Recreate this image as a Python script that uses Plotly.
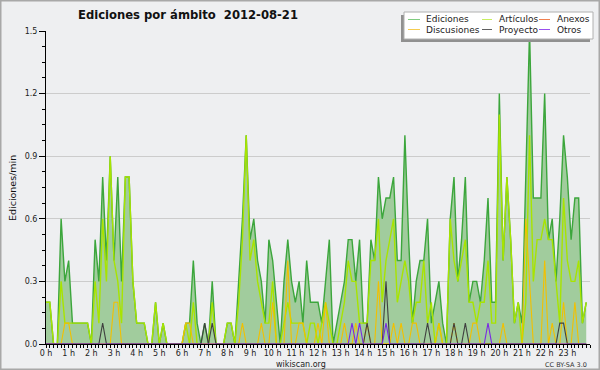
import plotly.graph_objects as go

# ---------------- data (10-minute bins, edits per minute) ----------------
minutes = list(range(0, 1440, 10))
hours = [m / 60 for m in minutes]

ediciones = [
    0.2, 0.2, 0.0, 0.0, 0.6, 0.3, 0.4, 0.1, 0.1, 0.1, 0.1, 0.1,
    0.0, 0.5, 0.3, 0.8, 0.4, 0.9, 0.4, 0.8, 0.3, 0.8, 0.8, 0.3,
    0.1, 0.1, 0.1, 0.0, 0.0, 0.2, 0.0, 0.1, 0.0, 0.0, 0.0, 0.0,
    0.0, 0.1, 0.1, 0.4, 0.1, 0.0, 0.1, 0.0, 0.3, 0.0, 0.0, 0.0,
    0.1, 0.1, 0.0, 0.3, 0.6, 1.0, 0.5, 0.6, 0.4, 0.3, 0.1, 0.5,
    0.4, 0.2, 0.0, 0.3, 0.5, 0.3, 0.2, 0.3, 0.1, 0.4, 0.2, 0.2,
    0.2, 0.1, 0.3, 0.5, 0.0, 0.1, 0.2, 0.3, 0.5, 0.5, 0.3, 0.5,
    0.1, 0.1, 0.5, 0.4, 0.8, 0.6, 0.7, 0.7, 0.8, 0.4, 0.4, 1.0,
    0.5, 0.1, 0.3, 0.4, 0.4, 0.6, 0.1, 0.2, 0.3, 0.1, 0.0, 0.6,
    0.8, 0.3, 0.5, 0.8, 0.2, 0.3, 0.3, 0.2, 0.4, 0.7, 0.2, 0.2,
    1.2, 0.4, 0.8, 0.5, 0.1, 0.2, 0.1, 0.8, 1.5, 0.7, 0.7, 0.7,
    1.2, 0.5, 0.6, 0.3, 0.6, 1.0, 0.8, 0.5, 0.7, 0.7, 0.1, 0.2,
]

articulos = [
    0.2, 0.2, 0.0, 0.0, 0.3, 0.1, 0.1, 0.1, 0.1, 0.1, 0.1, 0.1,
    0.0, 0.3, 0.1, 0.6, 0.3, 0.9, 0.4, 0.3, 0.1, 0.8, 0.8, 0.3,
    0.1, 0.1, 0.1, 0.0, 0.0, 0.2, 0.0, 0.1, 0.0, 0.0, 0.0, 0.0,
    0.0, 0.1, 0.0, 0.2, 0.0, 0.0, 0.0, 0.0, 0.2, 0.0, 0.0, 0.0,
    0.1, 0.1, 0.0, 0.2, 0.5, 1.0, 0.4, 0.5, 0.3, 0.2, 0.1, 0.1,
    0.3, 0.0, 0.0, 0.1, 0.2, 0.1, 0.1, 0.1, 0.1, 0.0, 0.1, 0.1,
    0.0, 0.1, 0.2, 0.1, 0.0, 0.0, 0.1, 0.2, 0.4, 0.3, 0.3, 0.1,
    0.1, 0.1, 0.4, 0.4, 0.6, 0.2, 0.4, 0.5, 0.6, 0.2, 0.3, 0.4,
    0.3, 0.1, 0.2, 0.2, 0.4, 0.1, 0.2, 0.0, 0.1, 0.0, 0.0, 0.6,
    0.4, 0.3, 0.4, 0.5, 0.2, 0.2, 0.1, 0.2, 0.2, 0.4, 0.1, 0.1,
    1.1, 0.4, 0.8, 0.5, 0.1, 0.2, 0.0, 0.2, 1.0, 0.3, 0.5, 0.5,
    0.6, 0.5, 0.5, 0.3, 0.1, 0.7, 0.4, 0.3, 0.3, 0.4, 0.1, 0.2,
]

anexos = [0.0] * 144

discusiones = [
    0.0, 0.0, 0.0, 0.0, 0.0, 0.1, 0.1, 0.0, 0.0, 0.0, 0.0, 0.0,
    0.0, 0.0, 0.0, 0.0, 0.0, 0.0, 0.2, 0.2, 0.0, 0.0, 0.0, 0.0,
    0.0, 0.0, 0.0, 0.0, 0.0, 0.0, 0.0, 0.0, 0.0, 0.0, 0.0, 0.0,
    0.0, 0.1, 0.1, 0.0, 0.0, 0.0, 0.0, 0.0, 0.0, 0.0, 0.0, 0.0,
    0.0, 0.0, 0.0, 0.0, 0.1, 0.0, 0.0, 0.0, 0.0, 0.1, 0.0, 0.0,
    0.2, 0.0, 0.0, 0.0, 0.4, 0.0, 0.0, 0.1, 0.1, 0.0, 0.0, 0.0,
    0.1, 0.0, 0.2, 0.0, 0.0, 0.0, 0.0, 0.1, 0.0, 0.0, 0.1, 0.0,
    0.0, 0.1, 0.0, 0.0, 0.3, 0.0, 0.0, 0.0, 0.1, 0.0, 0.1, 0.0,
    0.0, 0.1, 0.1, 0.0, 0.0, 0.0, 0.0, 0.0, 0.1, 0.0, 0.0, 0.0,
    0.1, 0.0, 0.0, 0.0, 0.0, 0.1, 0.1, 0.0, 0.0, 0.0, 0.0, 0.0,
    0.0, 0.1, 0.0, 0.0, 0.0, 0.0, 0.0, 0.6, 0.3, 0.0, 0.0, 0.0,
    0.4, 0.0, 0.1, 0.0, 0.0, 0.2, 0.0, 0.0, 0.2, 0.0, 0.0, 0.0,
]

proyecto = [
    0.0, 0.0, 0.0, 0.0, 0.0, 0.0, 0.0, 0.0, 0.0, 0.0, 0.0, 0.0,
    0.0, 0.0, 0.0, 0.1, 0.0, 0.0, 0.0, 0.0, 0.0, 0.0, 0.0, 0.0,
    0.0, 0.0, 0.0, 0.0, 0.0, 0.0, 0.0, 0.0, 0.0, 0.0, 0.0, 0.0,
    0.0, 0.0, 0.0, 0.0, 0.0, 0.0, 0.1, 0.0, 0.1, 0.0, 0.0, 0.0,
    0.0, 0.0, 0.0, 0.0, 0.0, 0.0, 0.0, 0.0, 0.0, 0.0, 0.0, 0.0,
    0.0, 0.0, 0.0, 0.0, 0.0, 0.0, 0.0, 0.0, 0.0, 0.0, 0.0, 0.0,
    0.0, 0.0, 0.0, 0.0, 0.0, 0.0, 0.0, 0.0, 0.0, 0.0, 0.0, 0.0,
    0.0, 0.1, 0.0, 0.0, 0.0, 0.0, 0.3, 0.0, 0.0, 0.0, 0.0, 0.0,
    0.0, 0.0, 0.0, 0.0, 0.0, 0.1, 0.0, 0.0, 0.0, 0.0, 0.0, 0.0,
    0.1, 0.0, 0.0, 0.1, 0.0, 0.0, 0.0, 0.0, 0.0, 0.0, 0.0, 0.0,
    0.0, 0.0, 0.0, 0.0, 0.0, 0.0, 0.0, 0.0, 0.0, 0.0, 0.0, 0.0,
    0.0, 0.0, 0.0, 0.0, 0.1, 0.1, 0.0, 0.0, 0.0, 0.0, 0.0, 0.0,
]

otros = [
    0.0, 0.0, 0.0, 0.0, 0.0, 0.0, 0.0, 0.0, 0.0, 0.0, 0.0, 0.0,
    0.0, 0.0, 0.0, 0.0, 0.0, 0.0, 0.0, 0.0, 0.0, 0.0, 0.0, 0.0,
    0.0, 0.0, 0.0, 0.0, 0.0, 0.0, 0.0, 0.0, 0.0, 0.0, 0.0, 0.0,
    0.0, 0.0, 0.0, 0.0, 0.0, 0.0, 0.0, 0.0, 0.0, 0.0, 0.0, 0.0,
    0.0, 0.0, 0.0, 0.0, 0.0, 0.0, 0.0, 0.0, 0.0, 0.0, 0.0, 0.0,
    0.0, 0.0, 0.0, 0.0, 0.0, 0.0, 0.0, 0.0, 0.0, 0.0, 0.0, 0.0,
    0.0, 0.0, 0.0, 0.0, 0.0, 0.0, 0.0, 0.0, 0.0, 0.1, 0.0, 0.1,
    0.0, 0.0, 0.0, 0.0, 0.0, 0.0, 0.1, 0.0, 0.0, 0.0, 0.0, 0.0,
    0.0, 0.0, 0.0, 0.0, 0.0, 0.0, 0.0, 0.0, 0.0, 0.0, 0.0, 0.0,
    0.0, 0.0, 0.0, 0.0, 0.0, 0.0, 0.0, 0.0, 0.0, 0.1, 0.0, 0.0,
    0.0, 0.0, 0.0, 0.0, 0.0, 0.0, 0.0, 0.0, 0.0, 0.0, 0.0, 0.0,
    0.0, 0.0, 0.0, 0.0, 0.0, 0.0, 0.0, 0.0, 0.0, 0.0, 0.0, 0.0,
]

x_tick_vals = list(range(24))
x_tick_text = [f"{h} h" for h in x_tick_vals]
y_tick_vals = [0.0, 0.3, 0.6, 0.9, 1.2, 1.5]
y_tick_text = ["0.0", "0.3", "0.6", "0.9", "1.2", "1.5"]

series_names = ["Ediciones", "Artículos", "Anexos", "Discusiones", "Proyecto", "Otros"]
series_colors = ["#3ca63c", "#a8e400", "#ff7f3f", "#f2c000", "#404040", "#7a2be2"]
legend_colors = ["#80cc80", "#c8ee60", "#f08050", "#f5cc50", "#606060", "#9a50ee"]

# ---------------- figure ----------------
FONT = "DejaVu Sans"
L, R, T, B = 46, 590, 31, 344
W, H = R - L, B - T


def px(x):
    return (x - L) / W


def py(y):
    return (B - y) / H


fig = go.Figure()

data_series = [ediciones, articulos, anexos, discusiones, proyecto, otros]
for idx, (name, vals, col) in enumerate(zip(series_names, data_series, series_colors)):
    kw = {}
    if idx == 0:
        kw = dict(fill="tozeroy", fillcolor="#a1cc9d")
    fig.add_trace(go.Scatter(
        x=hours, y=vals, name=name, mode="lines",
        line=dict(color=col, width=1.4 if idx < 2 else 1.1),
        showlegend=False, hoverinfo="skip", **kw))

shapes = []
annotations = []

# outer frame
shapes.append(dict(type="rect", xref="paper", yref="paper",
                   x0=px(0.75), x1=px(599.25), y0=py(0.75), y1=py(369.25),
                   line=dict(color="#a8a8a8", width=1.5), layer="above"))

# legend box with shadow
shapes.append(dict(type="rect", xref="paper", yref="paper",
                   x0=px(401), x1=px(590), y0=py(15), y1=py(42),
                   fillcolor="#909090", line=dict(width=0), layer="above"))
shapes.append(dict(type="rect", xref="paper", yref="paper",
                   x0=px(404), x1=px(593), y0=py(12), y1=py(39),
                   fillcolor="#ffffff", line=dict(color="#b0b0b0", width=1), layer="above"))

col_line_x = [(408, 420), (482, 492), (539, 550)]
col_text_x = [424, 497, 555]
row_y = [19.5, 29.5]
for k, (name, col) in enumerate(zip(series_names, legend_colors)):
    c = k % 3
    r = k // 3
    shapes.append(dict(type="line", xref="paper", yref="paper",
                       x0=px(col_line_x[c][0]), x1=px(col_line_x[c][1]),
                       y0=py(row_y[r]), y1=py(row_y[r]),
                       line=dict(color=col, width=1), layer="above"))
    annotations.append(dict(xref="paper", yref="paper", x=px(col_text_x[c]), y=py(row_y[r]),
                            text=name, showarrow=False, xanchor="left", yanchor="middle",
                            font=dict(family=FONT, size=9, color="#222222")))

# title
annotations.append(dict(xref="paper", yref="paper", x=px(187.5), y=py(14.5),
                        text="<b>Ediciones por ámbito  2012-08-21</b>", showarrow=False,
                        xanchor="center", yanchor="middle",
                        font=dict(family=FONT, size=11.6, color="#111111")))
# y title
annotations.append(dict(xref="paper", yref="paper", x=px(12), y=py(188),
                        text="Ediciones/min", showarrow=False, textangle=-90,
                        xanchor="center", yanchor="middle",
                        font=dict(family=FONT, size=9.5, color="#111111")))
# footer
annotations.append(dict(xref="paper", yref="paper", x=px(300.5), y=py(364),
                        text="wikiscan.org", showarrow=False,
                        xanchor="center", yanchor="middle",
                        font=dict(family=FONT, size=8, color="#222222")))
annotations.append(dict(xref="paper", yref="paper", x=px(589), y=py(365),
                        text="CC BY-SA 3.0", showarrow=False,
                        xanchor="right", yanchor="middle",
                        font=dict(family=FONT, size=6.5, color="#333333")))

fig.update_layout(
    width=600, height=370,
    margin=dict(l=L, r=600 - R, t=T, b=370 - B, pad=0),
    paper_bgcolor="#eeeff1", plot_bgcolor="#eeeff1",
    showlegend=False,
    shapes=shapes, annotations=annotations,
    font=dict(family=FONT, size=9, color="#222222"),
    xaxis=dict(
        range=[0, 24], tickmode="array", tickvals=x_tick_vals, ticktext=x_tick_text,
        ticks="outside", ticklen=3, tickcolor="#000000", tickwidth=1,
        ticklabelstandoff=-2,
        minor=dict(tickmode="linear", tick0=0, dtick=1 / 6, ticks="outside",
                   ticklen=3, tickcolor="#000000", tickwidth=1, showgrid=False),
        showline=True, linecolor="#000000", linewidth=1,
        showgrid=False, zeroline=False, fixedrange=True,
        tickfont=dict(family=FONT, size=8, color="#222222"),
    ),
    yaxis=dict(
        range=[0, 1.5], tickmode="array", tickvals=y_tick_vals, ticktext=y_tick_text,
        ticks="outside", ticklen=6, tickcolor="#000000", tickwidth=1,
        minor=dict(tickmode="linear", tick0=0, dtick=0.075, ticks="outside",
                   ticklen=3, tickcolor="#000000", tickwidth=1, showgrid=False),
        showline=True, linecolor="#000000", linewidth=1,
        showgrid=True, gridcolor="#cccccc", gridwidth=1, zeroline=False, fixedrange=True,
        tickfont=dict(family=FONT, size=8, color="#222222"),
    ),
)

fig.write_html("out.html", config={"displayModeBar": False})

# remove the default page margin so the 600x370 figure fills the window exactly
with open("out.html", "r", encoding="utf-8") as f:
    html = f.read()
html = html.replace("<head>", "<head><style>html,body{margin:0;padding:0;overflow:hidden;}</style>", 1)
with open("out.html", "w", encoding="utf-8") as f:
    f.write(html)
